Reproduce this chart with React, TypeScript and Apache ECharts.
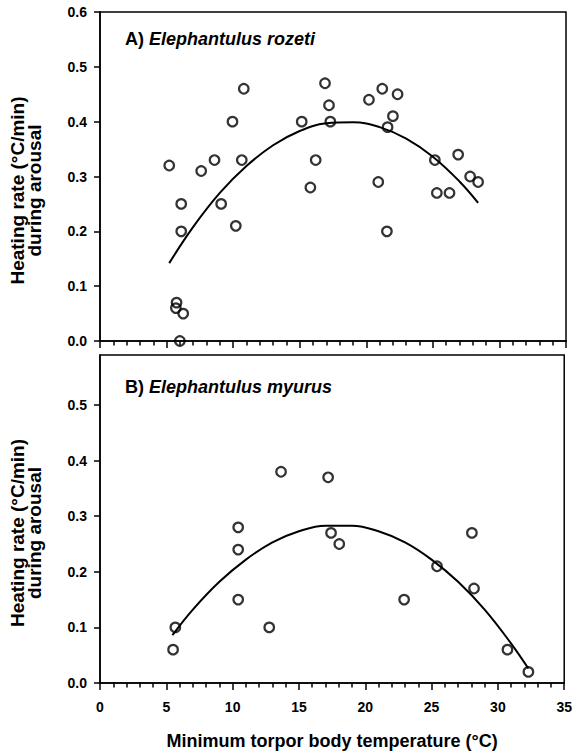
import React, { useEffect, useRef } from "react";
import * as echarts from "echarts";

// Panel A: Elephantulus rozeti
const topX = [5.2, 6.1, 6.1, 5.75, 5.7, 6.25, 6.0, 7.6, 8.6, 9.1, 9.95, 10.2, 10.65, 10.8, 15.15, 15.8, 16.2, 16.9, 17.2, 17.3, 20.2, 21.2, 22.35, 22.0, 21.6, 20.9, 21.55, 25.15, 26.9, 27.8, 28.4, 25.3, 26.25];
const topY = [0.32, 0.25, 0.20, 0.07, 0.06, 0.05, 0.0, 0.31, 0.33, 0.25, 0.40, 0.21, 0.33, 0.46, 0.40, 0.28, 0.33, 0.47, 0.43, 0.40, 0.44, 0.46, 0.45, 0.41, 0.39, 0.29, 0.20, 0.33, 0.34, 0.30, 0.29, 0.27, 0.27];
const topCurveX = [5.2, 7, 9, 11, 13, 15, 17, 19, 21, 23, 25, 27, 28.4];
const topCurveY = [0.142, 0.208, 0.27, 0.319, 0.357, 0.383, 0.397, 0.399, 0.39, 0.369, 0.336, 0.291, 0.252];

// Panel B: Elephantulus myurus
const botX = [5.68, 5.51, 10.42, 10.42, 10.42, 12.76, 13.65, 17.2, 17.42, 18.04, 22.93, 25.41, 28.04, 28.2, 30.72, 32.3];
const botY = [0.10, 0.06, 0.28, 0.24, 0.15, 0.10, 0.38, 0.37, 0.27, 0.25, 0.15, 0.21, 0.27, 0.17, 0.06, 0.02];
const botCurveX = [5.46, 7, 9, 11, 13, 15, 17, 19, 21, 23, 25, 27, 29, 31, 32.3];
const botCurveY = [0.086, 0.132, 0.182, 0.222, 0.253, 0.273, 0.283, 0.283, 0.273, 0.253, 0.222, 0.182, 0.132, 0.071, 0.026];

const yTicksBottom = [0, 0.1, 0.2, 0.3, 0.4, 0.5];
const panelA = ["A) ", "Elephantulus rozeti"];
const panelB = ["B) ", "Elephantulus myurus"];
const yTitle = "Heating rate (°C/min)\nduring arousal";
const xTitle = "Minimum torpor body temperature (°C)";

const FONT = "'Liberation Sans', Arial, Helvetica, sans-serif";

const zip = (xs: number[], ys: number[]) => xs.map((x, i) => [x, ys[i]]);

export default function App() {
  const ref = useRef<HTMLDivElement>(null);
  useEffect(() => {
    if (!ref.current) return;
    const chart = echarts.init(ref.current, undefined, { renderer: "svg" });
    const axisLine = { show: true, lineStyle: { color: "#000", width: 1.5 } };
    const label = { color: "#000", fontFamily: FONT, fontWeight: "bold" as const, fontSize: 14 };
    const xAxisBase = (idx: number, showLabels: boolean) => ({
      type: "value",
      gridIndex: idx,
      position: "bottom",
      min: 0,
      max: 35,
      interval: 5,
      axisLine,
      axisTick: { show: true, inside: false, length: 7, lineStyle: { color: "#000", width: 1.5 } },
      minorTick: { show: true, splitNumber: 5, length: 4.5, lineStyle: { color: "#000", width: 1.5 } },
      splitLine: { show: false },
      minorSplitLine: { show: false },
      axisLabel: { show: showLabels, ...label, margin: 17, formatter: (v: number) => String(v) },
    });
    const yTitleStyle = { color: "#000", fontFamily: FONT, fontWeight: "bold", fontSize: 19, lineHeight: 17, padding: [0, 28, 0, 0] };
    const scatterStyle = {
      symbol: "circle",
      symbolSize: 9.5,
      itemStyle: { color: "rgba(0,0,0,0)", borderColor: "#000", borderWidth: 2.2 },
      z: 3,
    };
    const lineStyle = {
      type: "line",
      smooth: 0.4,
      showSymbol: false,
      lineStyle: { color: "#000", width: 2 },
      z: 2,
    };
    const rich = {
      a: { fontFamily: FONT, fontWeight: "bold", fontSize: 18, color: "#000" },
      b: { fontFamily: FONT, fontWeight: "bold", fontStyle: "italic", fontSize: 18, color: "#000" },
    };
    chart.setOption({
      animation: false,
      backgroundColor: "#fff",
      title: [
        { text: `{a|${panelA[0]}}{b|${panelA[1]}}`, left: 120, top: 25, textStyle: { rich } },
        { text: `{a|${panelB[0]}}{b|${panelB[1]}}`, left: 120, top: 373, textStyle: { rich } },
      ],
      grid: [
        { left: 96, right: 9, top: 12, height: 329, show: true, borderColor: "#000", borderWidth: 1.5, backgroundColor: "transparent" },
        { left: 96, right: 9, top: 355, height: 328, show: true, borderColor: "#000", borderWidth: 1.5, backgroundColor: "transparent" },
      ],
      xAxis: [
        xAxisBase(0, false),
        {
          ...xAxisBase(1, true),
          name: xTitle,
          nameLocation: "middle",
          nameGap: 49,
          nameTextStyle: { color: "#000", fontFamily: FONT, fontWeight: "bold", fontSize: 18 },
        },
      ],
      yAxis: [
        {
          type: "value",
          gridIndex: 0,
          min: 0,
          max: 0.6,
          interval: 0.1,
          axisLine,
          axisTick: { show: true, inside: false, length: 6, lineStyle: { color: "#000", width: 1.5 } },
          splitLine: { show: false },
          axisLabel: { ...label, margin: 13, formatter: (v: number) => v.toFixed(1) },
          name: yTitle,
          nameLocation: "middle",
          nameGap: 57,
          nameTextStyle: yTitleStyle,
        },
        {
          type: "value",
          gridIndex: 1,
          min: 0,
          max: 0.59,
          interval: 0.1,
          axisLine,
          axisTick: { show: true, inside: false, length: 6, customValues: yTicksBottom, lineStyle: { color: "#000", width: 1.5 } },
          splitLine: { show: false },
          axisLabel: { ...label, margin: 13, customValues: yTicksBottom, formatter: (v: number) => v.toFixed(1) },
          name: yTitle,
          nameLocation: "middle",
          nameGap: 57,
          nameTextStyle: yTitleStyle,
        },
      ],
      series: [
        { ...lineStyle, xAxisIndex: 0, yAxisIndex: 0, data: zip(topCurveX, topCurveY) },
        { type: "scatter", ...scatterStyle, xAxisIndex: 0, yAxisIndex: 0, data: zip(topX, topY) },
        { ...lineStyle, xAxisIndex: 1, yAxisIndex: 1, data: zip(botCurveX, botCurveY) },
        { type: "scatter", ...scatterStyle, xAxisIndex: 1, yAxisIndex: 1, data: zip(botX, botY) },
      ],
    });
    return () => chart.dispose();
  }, []);
  return (
    <div
      ref={ref}
      style={{ position: "absolute", left: 0, top: 0, width: 575, height: 755, background: "#fff" }}
    />
  );
}
